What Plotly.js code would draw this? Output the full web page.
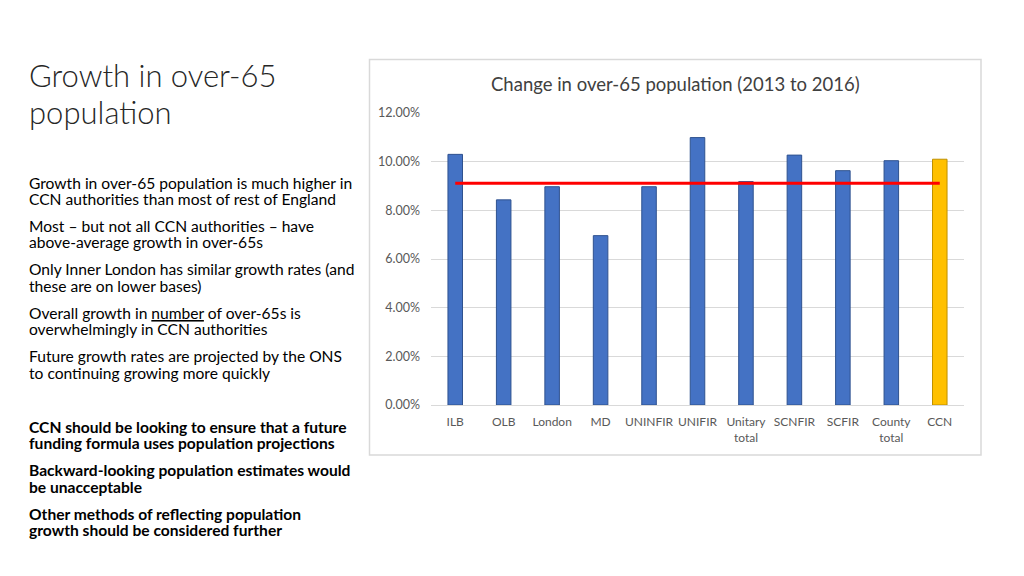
<!DOCTYPE html>
<html>
<head>
<meta charset="utf-8">
<script src="https://cdn.plot.ly/plotly-3.0.1.min.js"></script>
<style>html,body{margin:0;padding:0;background:#fff;}#chart{width:1024px;height:576px;}</style>
</head>
<body>
<div id="chart"></div>
<script>
// ---- data ----
const categories = ["ILB", "OLB", "London", "MD", "UNINFIR", "UNIFIR", "Unitary<br>total", "SCNFIR", "SCFIR", "County<br>total", "CCN"];
const growth = [0.1030, 0.0843, 0.0897, 0.0696, 0.0897, 0.1099, 0.0918, 0.1027, 0.0963, 0.1004, 0.1010];
const averageGrowth = 0.0911;
const highlightCategory = "CCN";
const yTickValues = [0, 0.02, 0.04, 0.06, 0.08, 0.10, 0.12];

const chartTitle = "Change in over-65 population (2013 to 2016)";
const slideTitle = ["Growth in over-65", "population"];
const bodyLines = [
  "Growth in over-65 population is much higher in",
  "CCN authorities than most of rest of England",
  "Most – but not all CCN authorities – have",
  "above-average growth in over-65s",
  "Only Inner London has similar growth rates (and",
  "these are on lower bases)",
  "Overall growth in <u>number</u> of over-65s is",
  "overwhelmingly in CCN authorities",
  "Future growth rates are projected by the ONS",
  "to continuing growing more quickly"
];
const boldLines = [
  "CCN should be looking to ensure that a future",
  "funding formula uses population projections",
  "Backward-looking population estimates would",
  "be unacceptable",
  "Other methods of reflecting population",
  "growth should be considered further"
];

// ---- layout helpers ----
const W = 1024, H = 576;
const px = x => x / W;
const py = y => 1 - y / H;

const blue = "#4472C4", blueEdge = "#2F528F";
const gold = "#FFC000", goldEdge = "#BF9000";

const barTrace = {
  type: "bar",
  x: categories,
  y: growth,
  marker: {
    color: categories.map(c => c === highlightCategory ? gold : blue),
    line: { color: categories.map(c => c === highlightCategory ? goldEdge : blueEdge), width: 1 }
  },
  hoverinfo: "x+y"
};
const avgTrace = {
  type: "scatter",
  mode: "lines",
  x: [categories[0], categories[categories.length - 1]],
  y: [averageGrowth, averageGrowth],
  line: { color: "#FF0000", width: 3 },
  hoverinfo: "y"
};

const font = "Lato, 'Open Sans', sans-serif";
const annotations = [];
annotations.push({
  xref: "paper", yref: "paper", x: px(675), y: py(84), xanchor: "center", yanchor: "middle",
  text: chartTitle, showarrow: false, font: { family: font, size: 18.5, color: "#404040" }
});
slideTitle.forEach((t, i) => annotations.push({
  xref: "paper", yref: "paper", x: px(27), y: py(75 + i * 37), xanchor: "left", yanchor: "middle",
  text: t, showarrow: false, font: { family: font, size: 31, color: "#262626", weight: 300 }
}));
const bodyY = [183, 199, 226, 242, 269, 286, 313, 329, 356, 373];
bodyLines.forEach((t, i) => annotations.push({
  xref: "paper", yref: "paper", x: px(27), y: py(bodyY[i]), xanchor: "left", yanchor: "middle",
  text: t, showarrow: false, font: { family: font, size: 15.6, color: "#000000" }
}));
const boldY = [427, 443, 470, 487, 514, 530];
boldLines.forEach((t, i) => annotations.push({
  xref: "paper", yref: "paper", x: px(27), y: py(boldY[i]), xanchor: "left", yanchor: "middle",
  text: "<b>" + t + "</b>", showarrow: false, font: { family: font, size: 15.6, color: "#000000" }
}));

const layout = {
  width: W, height: H,
  margin: { l: 0, r: 0, t: 0, b: 0 },
  paper_bgcolor: "#ffffff",
  plot_bgcolor: "rgba(0,0,0,0)",
  showlegend: false,
  bargap: 0.7,
  xaxis: {
    domain: [px(431), px(964)],
    type: "category",
    showgrid: false,
    showline: false,
    zeroline: false,
    ticks: "",
    ticklabelstandoff: 8,
    tickfont: { family: font, size: 12, color: "#595959" },
    fixedrange: true
  },
  yaxis: {
    domain: [py(405), py(113)],
    range: [0, 0.12],
    tickvals: yTickValues,
    tickformat: ".2%",
    showgrid: true,
    gridcolor: "#D9D9D9",
    gridwidth: 1,
    zeroline: true,
    zerolinecolor: "#D9D9D9",
    zerolinewidth: 1,
    ticks: "",
    ticklabelstandoff: 10,
    tickfont: { family: font, size: 12.5, color: "#595959" },
    fixedrange: true
  },
  shapes: [{
    type: "rect", xref: "paper", yref: "paper",
    x0: px(369.5), x1: px(981), y0: py(455), y1: py(59.5),
    line: { color: "#D9D9D9", width: 1.5 }, fillcolor: "rgba(0,0,0,0)", layer: "below"
  }],
  annotations: annotations
};

Plotly.newPlot("chart", [barTrace, avgTrace], layout, { displayModeBar: false, staticPlot: true });
</script>
</body>
</html>
